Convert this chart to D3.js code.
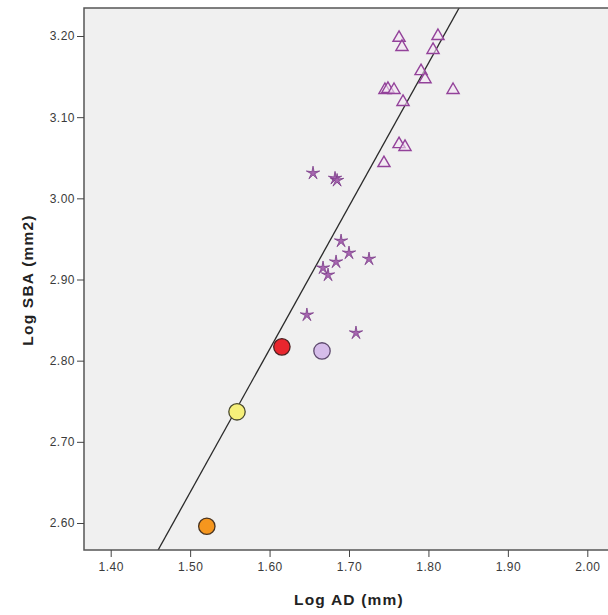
<!DOCTYPE html>
<html>
<head>
<meta charset="utf-8">
<script src="https://cdn.jsdelivr.net/npm/d3@7"></script>
<style>
  html, body { margin: 0; padding: 0; background: #ffffff; }
  svg { display: block; }
  .tick text { font-family: "Liberation Sans", Arial, sans-serif; font-size: 12px; letter-spacing: 0.5px; fill: #3a3a3a; }
</style>
</head>
<body>
<div id="chart"></div>
<script>
// ---- data ----
const xTicks = [1.40, 1.50, 1.60, 1.70, 1.80, 1.90, 2.00];
const yTicks = [2.60, 2.70, 2.80, 2.90, 3.00, 3.10, 3.20];

const circleX = [1.521, 1.559, 1.6155, 1.666];
const circleY = [2.596, 2.737, 2.817, 2.812];
const circleFill = ["#f5961e", "#f6f07a", "#e8262e", "#d6bdea"];
const circleStroke = ["#4a3420", "#4a4a30", "#4a2020", "#5e4a6e"];

const starX = [1.6547, 1.6824, 1.685, 1.690, 1.700, 1.6837, 1.7252, 1.6673, 1.6736, 1.647, 1.7088];
const starY = [3.031, 3.0246, 3.022, 2.9474, 2.9326, 2.9216, 2.9252, 2.9142, 2.9055, 2.8563, 2.8341];

const triX = [1.763, 1.7667, 1.812, 1.8058, 1.7907, 1.7957, 1.7453, 1.749, 1.7567, 1.831, 1.768, 1.763, 1.7705, 1.744];
const triY = [3.199, 3.1877, 3.2012, 3.184, 3.158, 3.148, 3.1347, 3.136, 3.1347, 3.1347, 3.120, 3.068, 3.0645, 3.0447];

const fitIntercept = -0.006;
const fitSlope = 1.7625;

const xTitle = "Log AD (mm)";
const yTitle = "Log SBA (mm2)";

// ---- layout ----
const W = 608, H = 615;
const plot = { left: 84, top: 8, right: 622, bottom: 550 };

const x = d3.scaleLinear().domain([1.40, 2.00]).range([110.7, 587.3]);
const y = d3.scaleLinear().domain([2.60, 3.20]).range([523, 36]);

const svg = d3.select("#chart").append("svg").attr("width", W).attr("height", H);

svg.append("defs").append("clipPath").attr("id", "clip")
  .append("rect").attr("x", plot.left).attr("y", plot.top)
  .attr("width", plot.right - plot.left).attr("height", plot.bottom - plot.top);

svg.append("rect").attr("x", plot.left).attr("y", plot.top)
  .attr("width", plot.right - plot.left).attr("height", plot.bottom - plot.top)
  .attr("fill", "#f0f0f0");

const g = svg.append("g").attr("clip-path", "url(#clip)");

// fit line
const xd0 = x.invert(plot.left), xd1 = x.invert(plot.right);
g.append("line")
  .attr("x1", x(xd0)).attr("y1", y(fitIntercept + fitSlope * xd0))
  .attr("x2", x(xd1)).attr("y2", y(fitIntercept + fitSlope * xd1))
  .attr("stroke", "#2a2a2a").attr("stroke-width", 1.3);

// triangles
const triPath = d3.symbol().type(d3.symbolTriangle).size(64);
g.selectAll(".tri").data(triX.map((v, i) => [v, triY[i]])).join("path")
  .attr("class", "tri")
  .attr("d", triPath)
  .attr("transform", d => `translate(${x(d[0])},${y(d[1]) + 1})`)
  .attr("fill", "#f3e6f3").attr("fill-opacity", 0.6)
  .attr("stroke", "#93429a").attr("stroke-width", 1.4);

// stars
function starD(ro, ri) {
  const pts = [];
  for (let k = 0; k < 10; k++) {
    const r = k % 2 === 0 ? ro : ri;
    const a = -Math.PI / 2 + k * Math.PI / 5;
    pts.push([r * Math.cos(a), r * Math.sin(a)]);
  }
  return "M" + pts.map(p => p.join(",")).join("L") + "Z";
}
g.selectAll(".star").data(starX.map((v, i) => [v, starY[i]])).join("path")
  .attr("class", "star")
  .attr("d", starD(7, 1.8))
  .attr("transform", d => `translate(${x(d[0])},${y(d[1])})`)
  .attr("fill", "#a766b0").attr("stroke", "#7a3a88").attr("stroke-width", 0.8);

// circles
g.selectAll(".circ").data(circleX.map((v, i) => [v, circleY[i], i])).join("circle")
  .attr("class", "circ")
  .attr("cx", d => x(d[0])).attr("cy", d => y(d[1])).attr("r", 8.2)
  .attr("fill", d => circleFill[d[2]])
  .attr("stroke", d => circleStroke[d[2]]).attr("stroke-width", 1.3);

// border (left, top, bottom)
svg.append("path")
  .attr("d", `M${plot.right},${plot.top}H${plot.left}V${plot.bottom}H${plot.right}`)
  .attr("fill", "none").attr("stroke", "#555").attr("stroke-width", 1.5);

// axes
const yAxis = d3.axisLeft(y).tickValues(yTicks).tickFormat(d3.format(".2f")).tickSize(7).tickPadding(2);
const ya = svg.append("g").attr("transform", `translate(${plot.left},0)`).call(yAxis);
ya.select(".domain").remove();
ya.selectAll(".tick line").attr("stroke", "#444");

const xAxis = d3.axisBottom(x).tickValues(xTicks).tickFormat(d3.format(".2f")).tickSize(7).tickPadding(5);
const xa = svg.append("g").attr("transform", `translate(0,${plot.bottom})`).call(xAxis);
xa.select(".domain").remove();
xa.selectAll(".tick line").attr("stroke", "#444");

// titles
svg.append("text").attr("x", 349).attr("y", 605).attr("text-anchor", "middle")
  .attr("font-family", "Liberation Sans, Arial, sans-serif").attr("font-size", 15.5)
  .attr("letter-spacing", 1.2)
  .attr("font-weight", "bold").attr("fill", "#222").text(xTitle);

svg.append("text").attr("transform", `translate(33,280) rotate(-90)`).attr("text-anchor", "middle")
  .attr("font-family", "Liberation Sans, Arial, sans-serif").attr("font-size", 15.5)
  .attr("letter-spacing", 1.2)
  .attr("font-weight", "bold").attr("fill", "#222").text(yTitle);
</script>
</body>
</html>
